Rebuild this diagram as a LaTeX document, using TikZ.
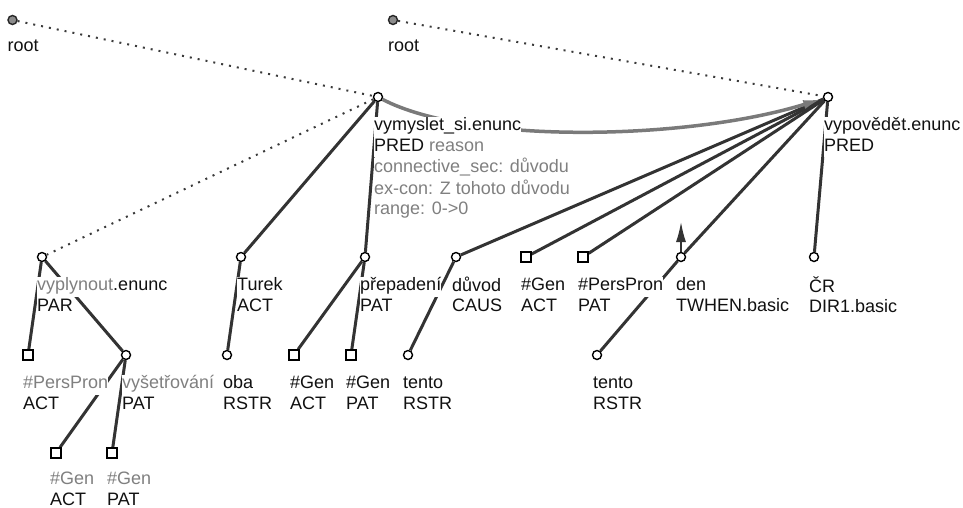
\documentclass[tikz,border=0pt]{standalone}
\usepackage{fontspec}
\setmainfont{Liberation Sans}
\usetikzlibrary{arrows.meta}
\usetikzlibrary{positioning}
\usetikzlibrary{backgrounds}
\definecolor{edgegray}{HTML}{333333}
\definecolor{dotgray}{HTML}{3A3A3A}
\definecolor{txtgray}{HTML}{808080}
\definecolor{txtdark}{HTML}{111111}
\definecolor{rootfill}{HTML}{8C8C8C}
\definecolor{curvegray}{HTML}{7A7A7A}
\setlength{\fboxsep}{0pt}
\newcommand{\lrow}[1]{\colorbox{white}{\rule[-6pt]{0pt}{20pt}#1}}
\newcommand{\gr}[1]{\textcolor{txtgray}{#1}}

\begin{document}
\begin{tikzpicture}
    [
x=1pt, y=1pt,
circnode/.style={circle, draw=black, fill=white, line width=1.4pt, inner sep=0pt, minimum size=9pt},
sqnode/.style={rectangle, draw=black, fill=white, line width=1.4pt, inner sep=0pt, minimum size=10pt},
rootnode/.style={circle, draw=black!85, fill=rootfill, line width=1.4pt, inner sep=0pt, minimum size=9pt},
lbl/.style={inner sep=0pt, align=left, text=txtdark, font=\fontsize{18}{20.3}\selectfont},
treeedge/.style={draw=edgegray, line width=3pt},
rootedge/.style={draw=dotgray, line width=2pt, dash pattern=on 2pt off 6pt},
corefarrow/.style={draw=edgegray, fill=edgegray, line width=1.5pt, -{Latex[length=20pt,width=10pt]}},
reasonarrow/.style={draw=curvegray, line width=3.5pt, -{Latex[length=20pt,width=9pt]}}
]
\useasboundingbox (0,0) rectangle (963,-507);

\node[rootnode](root1) at (12.5,-20){};
\node[rootnode](root2) at (393,-20){};
\node[circnode](vymysl) at (378,-97){};
\node[circnode](vypov) at (828,-97){};
\node[circnode](vyplyn) at (42,-257){};
\node[circnode](turek) at (241,-257){};
\node[circnode](prepad) at (365,-257){};
\node[circnode](duvod) at (456,-257){};
\node[sqnode](genA) at (526,-257){};
\node[sqnode](persB) at (583,-257){};
\node[circnode](den) at (681,-257){};
\node[circnode](cr) at (814,-257){};
\node[sqnode](persA) at (28,-355){};
\node[circnode](vyset) at (126,-355){};
\node[circnode](oba) at (227,-355){};
\node[sqnode](genB) at (294,-355){};
\node[sqnode](genC) at (351,-355){};
\node[circnode](tentoA) at (408,-355){};
\node[circnode](tentoB) at (597,-355){};
\node[sqnode](genD) at (56,-453){};
\node[sqnode](genE) at (112,-453){};
\coordinate (denup) at (681,-222);

\node[lbl, below right=17.5pt and -5pt of root1.center](root1-l){\lrow{root}};
\node[lbl, below right=17.5pt and -5pt of root2.center](root2-l){\lrow{root}};
\node[lbl, below right=19.5pt and -4pt of vymysl.center](vymysl-l){\lrow{vymyslet\_si.enunc}\\\lrow{PRED \gr{reason}}\\\lrow{\gr{connective\_sec: důvodu}}\\\lrow{\gr{ex-con: Z tohoto důvodu}}\\\lrow{\gr{range: 0->0}}};
\node[lbl, below right=19.5pt and -4pt of vypov.center](vypov-l){\lrow{vypovědět.enunc}\\\lrow{PRED}};
\node[lbl, below right=19.5pt and -5pt of vyplyn.center](vyplyn-l){\lrow{\gr{vyplynout}.enunc}\\\lrow{PAR}};
\node[lbl, below right=19.5pt and -4pt of turek.center](turek-l){\lrow{Turek}\\\lrow{ACT}};
\node[lbl, below right=19.5pt and -5pt of prepad.center](prepad-l){\lrow{přepadení}\\\lrow{PAT}};
\node[lbl, below right=19.5pt and -4pt of duvod.center](duvod-l){\lrow{důvod}\\\lrow{CAUS}};
\node[lbl, below right=19.5pt and -5pt of genA.center](genA-l){\lrow{\#Gen}\\\lrow{ACT}};
\node[lbl, below right=19.5pt and -5pt of persB.center](persB-l){\lrow{\#PersPron}\\\lrow{PAT}};
\node[lbl, below right=19.5pt and -5pt of den.center](den-l){\lrow{den}\\\lrow{TWHEN.basic}};
\node[lbl, below right=19.5pt and -5pt of cr.center](cr-l){\lrow{ČR}\\\lrow{DIR1.basic}};
\node[lbl, below right=19.5pt and -5pt of persA.center](persA-l){\lrow{\gr{\#PersPron}}\\\lrow{ACT}};
\node[lbl, below right=19.5pt and -4pt of vyset.center](vyset-l){\lrow{\gr{vyšetřování}}\\\lrow{PAT}};
\node[lbl, below right=19.5pt and -4pt of oba.center](oba-l){\lrow{oba}\\\lrow{RSTR}};
\node[lbl, below right=19.5pt and -4pt of genB.center](genB-l){\lrow{\#Gen}\\\lrow{ACT}};
\node[lbl, below right=19.5pt and -5pt of genC.center](genC-l){\lrow{\#Gen}\\\lrow{PAT}};
\node[lbl, below right=19.5pt and -5pt of tentoA.center](tentoA-l){\lrow{tento}\\\lrow{RSTR}};
\node[lbl, below right=19.5pt and -4pt of tentoB.center](tentoB-l){\lrow{tento}\\\lrow{RSTR}};
\node[lbl, below right=17.5pt and -6pt of genD.center](genD-l){\lrow{\gr{\#Gen}}\\\lrow{ACT}};
\node[lbl, below right=17.5pt and -5pt of genE.center](genE-l){\lrow{\gr{\#Gen}}\\\lrow{PAT}};

\begin{pgfonlayer}{background}
\draw[rootedge] (root1) -- (vymysl);
\draw[rootedge] (root2) -- (vypov);
\draw[rootedge] (vymysl) -- (vyplyn);
\draw[treeedge] (vymysl) -- (turek);
\draw[treeedge] (vymysl) -- (prepad);
\draw[treeedge] (vypov) -- (duvod);
\draw[treeedge] (vypov) -- (genA);
\draw[treeedge] (vypov) -- (persB);
\draw[treeedge] (vypov) -- (den);
\draw[treeedge] (vypov) -- (cr);
\draw[treeedge] (vyplyn) -- (persA);
\draw[treeedge] (vyplyn) -- (vyset);
\draw[treeedge] (vyset) -- (genD);
\draw[treeedge] (vyset) -- (genE);
\draw[treeedge] (turek) -- (oba);
\draw[treeedge] (prepad) -- (genB);
\draw[treeedge] (prepad) -- (genC);
\draw[treeedge] (duvod) -- (tentoA);
\draw[treeedge] (den) -- (tentoB);
\draw[reasonarrow] (vymysl) .. controls (470,-145) and (690,-140) .. (vypov);
\draw[corefarrow] (den) -- (denup);
\end{pgfonlayer}
\end{tikzpicture}
\end{document}
